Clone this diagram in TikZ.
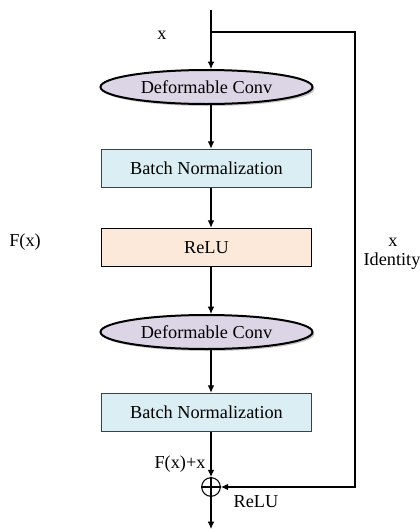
\documentclass[tikz,border=0pt]{standalone}
\usepackage{fontspec}
\setmainfont{Liberation Serif}
\usetikzlibrary{shapes.geometric, arrows.meta, shadows}
\definecolor{convfill}{HTML}{DCD5E6}
\definecolor{bnfill}{HTML}{DBEEF3}
\definecolor{relufill}{HTML}{FCE9DA}
\tikzset{
  conv/.style={ellipse, draw, line width=1.5pt, fill=convfill, minimum width=159pt, minimum height=25.5pt, inner sep=0pt,
    drop shadow={shadow xshift=1.5pt, shadow yshift=-1.5pt, fill=black!45}},
  layer/.style={rectangle, draw, line width=0.7pt, minimum width=158pt, minimum height=29pt, inner sep=0pt},
  flow/.style={-{Latex[length=5.5pt,width=5pt]}, line width=0.8pt},
}
\begin{document}
\begin{tikzpicture}[x=0.75pt, y=-0.75pt, font=\fontsize{13.7pt}{16pt}\selectfont]
\useasboundingbox (0,0) rectangle (419,529);
% Input
\coordinate (in) at (211,10);
\coordinate (split) at (211,32);
\node at (162,35) {x};
% Residual branch F(x)
\node[conv] (conv1) at (206.5,87) {Deformable Conv};
\node[layer, fill=bnfill, draw=black!75] (bn1) at (206.5,168.5) {Batch Normalization};
\node[layer, fill=relufill] (relu) at (206.5,247.5) {ReLU};
\node[conv] (conv2) at (206.5,332) {Deformable Conv};
\node[layer, fill=bnfill, draw=black!75] (bn2) at (206.5,412.5) {Batch Normalization};
\node at (25,242) {F(x)};
% Sum
\node[circle, draw, line width=0.8pt, minimum size=14pt, inner sep=0pt] (sum) at (211,487) {};
\draw[line width=0.8pt] (sum.north) -- (sum.south) (sum.west) -- (sum.east);
\node at (180,464) {F(x)+x};
\coordinate (out) at (211,529);
% Identity shortcut
\coordinate (c1) at (355,32);
\coordinate (c2) at (355,487);
\node at (393,242) {x};
\node at (392,261) {Identity};
\node at (256,502) {ReLU};
% Connectors
\draw[flow] (in) -- (conv1.north -| in);
\draw[flow] (conv1.south -| in) -- (bn1.north -| in);
\draw[flow] (bn1.south -| in) -- (relu.north -| in);
\draw[flow] (relu.south -| in) -- (conv2.north -| in);
\draw[flow] (conv2.south -| in) -- (bn2.north -| in);
\draw[flow] (bn2.south -| in) -- (sum);
\draw[flow] (sum) -- (out);
\draw[flow] (split) -- (c1) -- (c2) -- (sum);
\end{tikzpicture}
\end{document}
